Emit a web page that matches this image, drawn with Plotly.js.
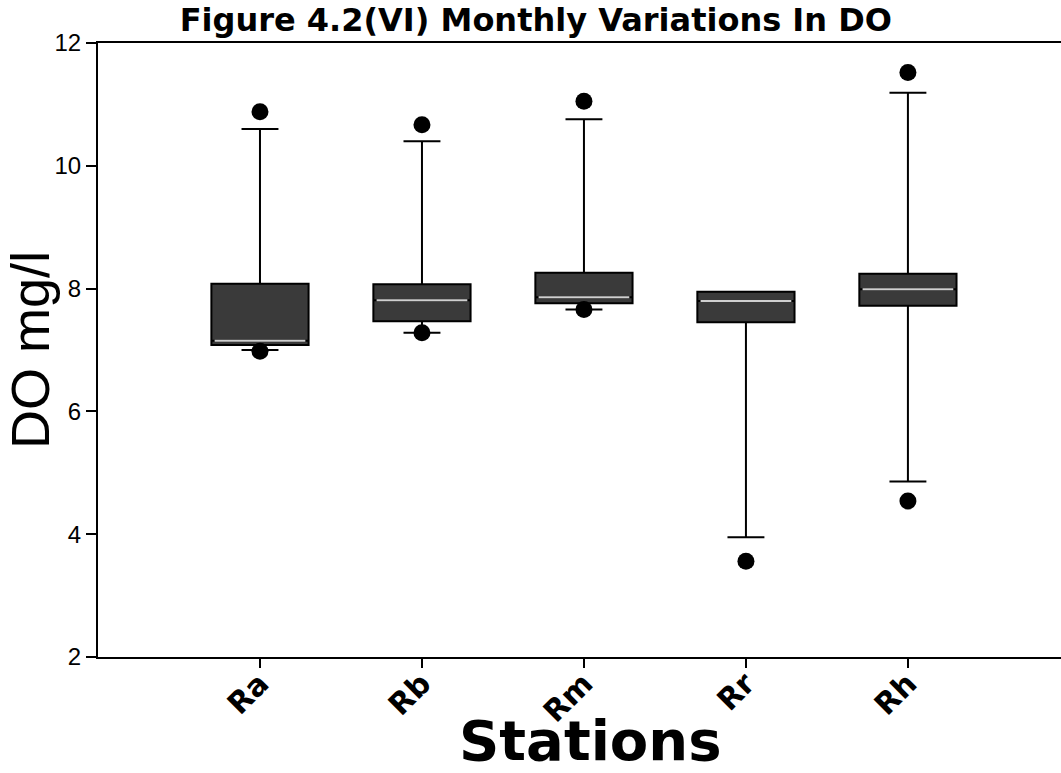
<!DOCTYPE html>
<html>
<head>
<meta charset="utf-8">
<script src="https://cdn.plot.ly/plotly-3.0.1.min.js"></script>
<style>
  html, body { margin: 0; padding: 0; background: #fff; }
  #chart { width: 1061px; height: 773px; }
</style>
</head>
<body>
<div id="chart"></div>
<script>
// Station categories
const stations = ["Ra", "Rb", "Rm", "Rr", "Rh"];
// Box statistics (DO, mg/l)
const q1Values = [7.08, 7.47, 7.76, 7.45, 7.72];
const medianValues = [7.15, 7.81, 7.86, 7.80, 7.99];
const q3Values = [8.08, 8.07, 8.26, 7.95, 8.24];
const lowerWhisker = [7.00, 7.28, 7.66, 3.95, 4.86];
const upperWhisker = [10.60, 10.40, 10.76, 7.95, 11.19];
// Extreme points (outliers) drawn as dots
const outlierStations = ["Ra", "Ra", "Rb", "Rb", "Rm", "Rm", "Rr", "Rh", "Rh"];
const outlierValues = [10.88, 6.98, 10.67, 7.28, 11.05, 7.66, 3.56, 11.52, 4.54];
const yTicks = [2, 4, 6, 8, 10, 12];

const boxTrace = {
  type: "box",
  x: stations,
  q1: q1Values,
  median: medianValues,
  q3: q3Values,
  lowerfence: lowerWhisker,
  upperfence: upperWhisker,
  width: 0.6,
  whiskerwidth: 0.38,
  fillcolor: "#3a3a3a",
  line: { color: "#000000", width: 2 },
  boxpoints: false,
  hoverinfo: "skip",
  showlegend: false
};

// Light median line drawn over the dark boxes
const medianTrace = {
  type: "box",
  x: stations,
  q1: medianValues,
  median: medianValues,
  q3: medianValues,
  lowerfence: medianValues,
  upperfence: medianValues,
  width: 0.56,
  whiskerwidth: 0,
  fillcolor: "rgba(0,0,0,0)",
  line: { color: "#cfcfcf", width: 2 },
  boxpoints: false,
  hoverinfo: "skip",
  showlegend: false
};

const outlierTrace = {
  type: "scatter",
  mode: "markers",
  x: outlierStations,
  y: outlierValues,
  marker: { color: "#000000", size: 17 },
  hoverinfo: "skip",
  showlegend: false,
  cliponaxis: false
};

const layout = {
  width: 1061,
  height: 773,
  paper_bgcolor: "#ffffff",
  plot_bgcolor: "#ffffff",
  margin: { l: 98, r: 0, t: 43, b: 116 },
  boxmode: "overlay",
  showlegend: false,
  title: {
    text: "<b>Figure 4.2(VI) Monthly Variations In DO</b>",
    font: { family: "DejaVu Sans", size: 32, color: "#000000" },
    x: 0.505,
    xanchor: "center",
    y: 0.975,
    yanchor: "middle"
  },
  xaxis: {
    type: "category",
    categoryorder: "array",
    categoryarray: stations,
    range: [-1, 4.945],
    showgrid: false,
    zeroline: false,
    showline: true,
    mirror: true,
    linecolor: "#000000",
    linewidth: 2,
    ticks: "outside",
    ticklen: 9,
    tickwidth: 2,
    tickcolor: "#000000",
    tickangle: -45,
    ticklabelstandoff: -14,
    tickfont: { family: "DejaVu Sans", size: 30, color: "#000000", weight: "bold" },
    automargin: false
  },
  yaxis: {
    range: [2, 12],
    tickvals: yTicks,
    ticktext: yTicks.map(String),
    showgrid: false,
    zeroline: false,
    showline: true,
    linecolor: "#000000",
    linewidth: 2,
    ticks: "outside",
    ticklen: 10,
    tickwidth: 2,
    tickcolor: "#000000",
    tickfont: { family: "Liberation Sans, Arial", size: 24, color: "#000000" },
    automargin: false,
    title: {
      text: "DO mg/l",
      font: { family: "Liberation Sans, Arial", size: 54, color: "#000000" },
      standoff: 0
    }
  },
  annotations: [{
    text: "<b>Stations</b>",
    xref: "paper",
    yref: "paper",
    x: 0.511,
    y: -0.136,
    xanchor: "center",
    yanchor: "middle",
    showarrow: false,
    font: { family: "DejaVu Sans", size: 56, color: "#000000" }
  }]
};

Plotly.newPlot("chart", [boxTrace, medianTrace, outlierTrace], layout, { staticPlot: true, displayModeBar: false });
</script>
</body>
</html>
